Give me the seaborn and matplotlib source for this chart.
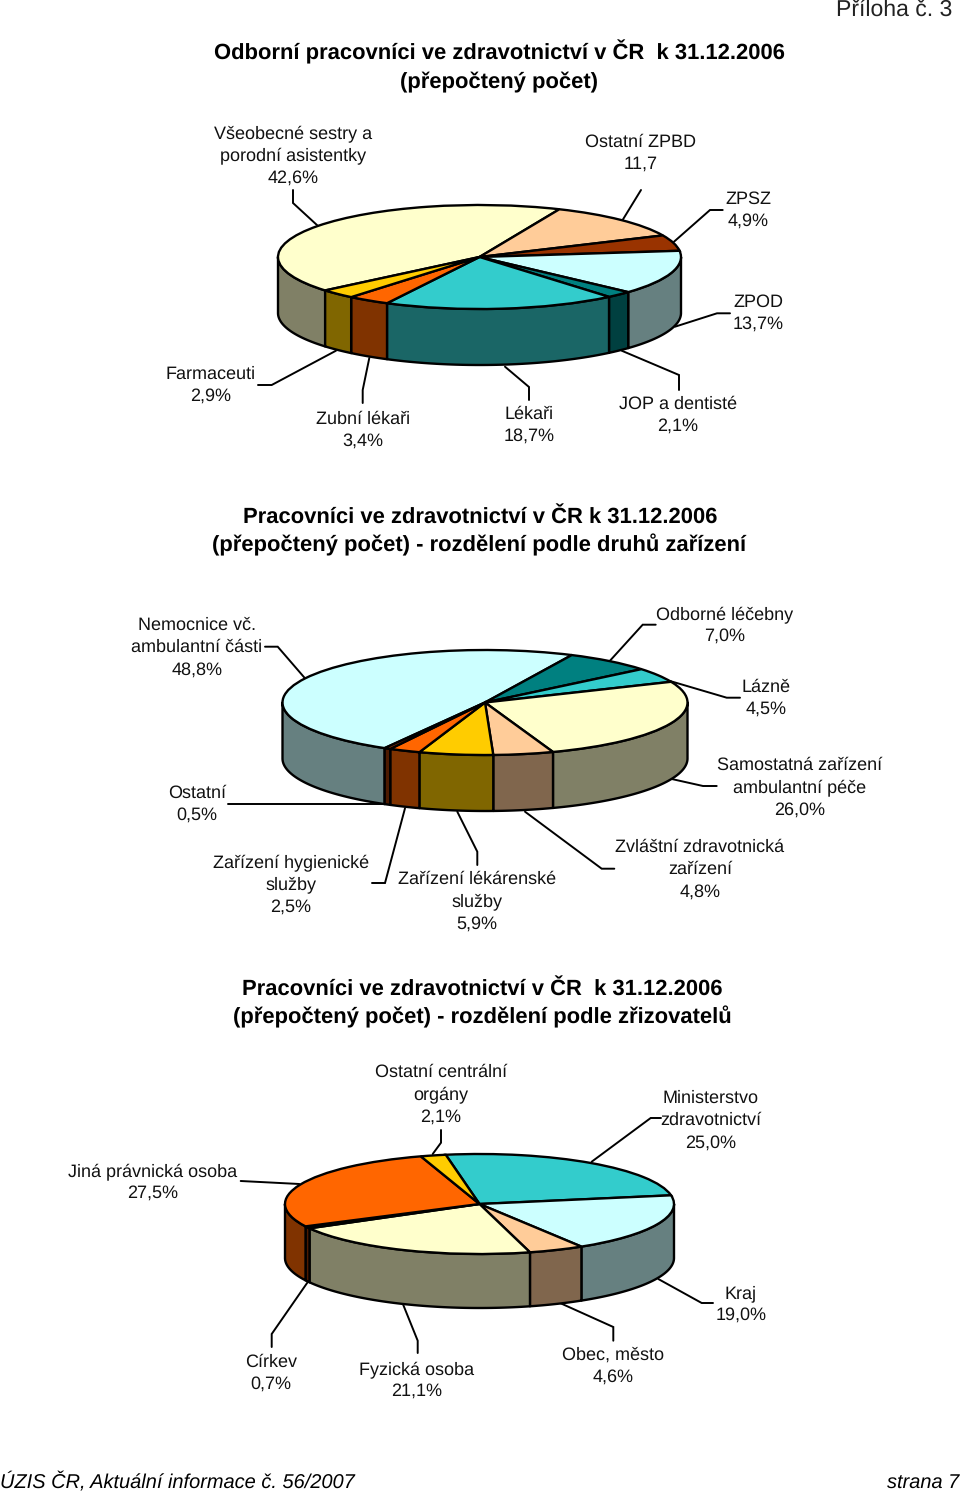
import numpy as np
import matplotlib
matplotlib.use("Agg")
import matplotlib.pyplot as plt
import seaborn as sns

sns.set_theme(style="white")
plt.rcParams['font.family'] = ['Liberation Sans', 'DejaVu Sans']
plt.rcParams['text.hinting'] = 'no_hinting'
plt.rcParams['text.hinting_factor'] = 1

W, H = 960, 1493
YELLOW, PEACH, RUST, CYAN, TEAL, TURQ, ORANGE, GOLD = (
    "#FFFFCC", "#FFCC99", "#993300", "#CCFFFF", "#008080", "#33CCCC", "#FF6600", "#FFCC00")

# --- data ---
staff_labels = ["Všeobecné sestry a\nporodní asistentky\n42,6%", "Ostatní ZPBD\n11,7", "ZPSZ\n4,9%",
                "ZPOD\n13,7%", "JOP a dentisté\n2,1%", "Lékaři\n18,7%", "Zubní lékaři\n3,4%", "Farmaceuti\n2,9%"]
staff_values = [42.6, 11.7, 4.9, 13.7, 2.1, 18.7, 3.4, 2.9]
staff_colors = [YELLOW, PEACH, RUST, CYAN, TEAL, TURQ, ORANGE, GOLD]
staff_label_pos = [(293, 132), (641, 141), (748, 198), (758, 301), (678, 403), (529, 413), (363, 418), (211, 373)]

facility_labels = ["Nemocnice vč.\nambulantní části\n48,8%", "Odborné léčebny\n7,0%", "Lázně\n4,5%",
                   "Samostatná zařízení\nambulantní péče\n26,0%", "Zvláštní zdravotnická\nzařízení\n4,8%",
                   "Zařízení lékárenské\nslužby\n5,9%", "Zařízení hygienické\nslužby\n2,5%", "Ostatní\n0,5%"]
facility_values = [48.8, 7.0, 4.5, 26.0, 4.8, 5.9, 2.5, 0.5]
facility_colors = [CYAN, TEAL, TURQ, YELLOW, PEACH, GOLD, ORANGE, RUST]
facility_label_pos = [(197, 624), (725, 613), (766, 686), (800, 764), (700, 846), (477, 878), (291, 861), (197, 792)]

founder_labels = ["Ministerstvo\nzdravotnictví\n25,0%", "Kraj\n19,0%", "Obec, město\n4,6%", "Fyzická osoba\n21,1%",
                  "Církev\n0,7%", "Jiná právnická osoba\n27,5%", "Ostatní centrální\norgány\n2,1%"]
founder_values = [25.0, 19.0, 4.6, 21.1, 0.7, 27.5, 2.1]
founder_colors = [TURQ, CYAN, PEACH, YELLOW, RUST, ORANGE, GOLD]
founder_label_pos = [(711, 1097), (741, 1292), (613, 1354), (417, 1368), (271, 1361), (153, 1170), (441, 1071)]

# leader lines, pixel positions
leaders = [
    [(293, 190), (293, 203), (318, 226)], [(641, 190), (622, 221)],
    [(722.7, 210), (710, 210), (674, 241.7)], [(730, 313.3), (717, 313.3), (675, 326.7)],
    [(258, 385), (271.7, 385), (336, 350.7)], [(362.7, 403), (362.7, 390), (369.3, 358)],
    [(529, 400), (529, 387), (505, 366.7)], [(679, 390), (679, 375), (621.7, 350.7)],
    [(265, 646.7), (277.7, 646.7), (305, 678.3)], [(655.7, 624.7), (642.7, 624.7), (610, 660.7)],
    [(670, 681), (726.7, 697.7), (740, 697.7)], [(671.7, 779), (703, 786), (716.7, 786)],
    [(228, 804), (383, 804)], [(372, 883), (385, 883), (405, 808.3)],
    [(477.3, 865), (477.3, 851.7), (457.3, 811.7)], [(614.3, 868.7), (601.7, 868.7), (525, 811.7)],
    [(240.7, 1181), (299.3, 1184)], [(441, 1130), (441, 1142.7), (432.7, 1154)],
    [(661, 1118), (650.7, 1118), (591.7, 1161.7)], [(271.7, 1347), (271.7, 1334), (307.3, 1282.7)],
    [(417.7, 1353), (417.7, 1340.7), (403.3, 1305)], [(613.3, 1340.7), (613.3, 1327), (560, 1303)],
    [(713, 1303), (701.7, 1303), (658.3, 1279)],
]

titles = [
    ("Odborní pracovníci ve zdravotnictví v ČR  k 31.12.2006", 499, 52),
    ("(přepočtený počet)", 499, 80),
    ("Pracovníci ve zdravotnictví v ČR k 31.12.2006", 480, 516),
    ("(přepočtený počet) - rozdělení podle druhů zařízení", 479, 544),
    ("Pracovníci ve zdravotnictví v ČR  k 31.12.2006", 482, 988),
    ("(přepočtený počet) - rozdělení podle zřizovatelů", 482, 1016),
]

LABEL_FS = 12.85
TITLE_FS = 15.75
LINE_PX = 22.4

fig = plt.figure(figsize=(W / 100, H / 100), dpi=100, facecolor="white")
overlay = fig.add_axes([0, 0, 1, 1], zorder=0)
overlay.set_xlim(0, W)
overlay.set_ylim(H, 0)
overlay.axis("off")


def cylinder_pie(values, colors, start, cx, cy, a, b, depth):
    m = 1.1
    d = depth / b
    left, right = cx - a * m, cx + a * m
    top, bottom = cy - b * m, cy + b * m + depth
    ax = fig.add_axes([left / W, 1 - bottom / H, (right - left) / W, (bottom - top) / H], zorder=2)
    shares = np.asarray(values, float) / np.sum(values) * 360
    ends = start - np.cumsum(shares)
    starts = ends + shares
    pal = sns.color_palette(colors)
    for t0, t1, c in zip(starts, ends, pal):
        for k in (0, -360):
            hi, lo = min(t0 + k, 0), max(t1 + k, -180)
            if hi <= lo:
                continue
            t = np.radians(np.linspace(hi, lo, 60))
            xs = np.r_[np.cos(t), np.cos(t)[::-1]]
            ys = np.r_[np.sin(t), np.sin(t)[::-1] - d]
            ax.fill(xs, ys, facecolor=tuple(v * 0.5 for v in c), edgecolor="black", lw=1.7, joinstyle="round")
    ax.pie(values, colors=pal, startangle=start, counterclock=False, radius=1,
           wedgeprops=dict(edgecolor="black", linewidth=1.7))
    ax.set_aspect("auto")
    ax.set_xlim(-m, m)
    ax.set_ylim(-m - d, m)
    ax.axis("off")


cylinder_pie(staff_values, staff_colors, 220, 479.5, 257, 201.5, 52, 56)
cylinder_pie(facility_values, facility_colors, 240.3, 485, 702.5, 202.5, 52.5, 56)
cylinder_pie(founder_values, founder_colors, 100, 479.5, 1204, 194.5, 50, 54)

for pts in leaders:
    xs, ys = zip(*pts)
    overlay.plot(xs, ys, color="black", lw=1.4, solid_joinstyle="miter")

for labels, positions in ((staff_labels, staff_label_pos), (facility_labels, facility_label_pos),
                          (founder_labels, founder_label_pos)):
    for label, (x, y) in zip(labels, positions):
        for i, line in enumerate(label.split("\n")):
            overlay.text(x, y + i * LINE_PX + 5.8, line, ha="center", va="baseline", fontsize=LABEL_FS, color="#111111")

for text, x, y in titles:
    overlay.text(x, y + 7, text, ha="center", va="baseline", fontsize=TITLE_FS, fontweight="bold", color="black")

overlay.text(952, 17, "Příloha č. 3", ha="right", va="baseline", fontsize=16.7, color="#222222")
overlay.text(0, 1488, "ÚZIS ČR, Aktuální informace č. 56/2007", ha="left", va="baseline", fontsize=14.2, style="italic", color="black")
overlay.text(959, 1488, "strana 7", ha="right", va="baseline", fontsize=14.2, style="italic", color="black")

fig.savefig("out.png", dpi=100)
